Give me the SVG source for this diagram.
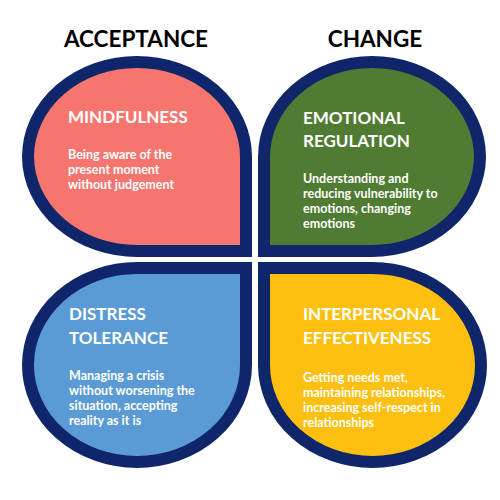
<svg xmlns="http://www.w3.org/2000/svg" width="500" height="500" viewBox="0 0 500 500">
<style>
.petal{stroke:#10266a;stroke-width:12;stroke-linejoin:miter}
.head{font-family:Lato,"Liberation Sans",sans-serif;font-weight:bold;font-size:22.5px;fill:#000}
.title{font-family:Lato,"Liberation Sans",sans-serif;font-weight:bold;font-size:17px;fill:#fff}
.body{font-family:Lato,"Liberation Sans",sans-serif;font-weight:bold;font-size:12.5px;fill:#fff}
</style>
<rect width="500" height="500" fill="#fff"/>
<g id="headers">
<text class="head" x="136" y="47" text-anchor="middle">ACCEPTANCE</text>
<text class="head" x="375" y="47" text-anchor="middle">CHANGE</text>
</g>
<g id="mindfulness">
<path class="petal" fill="#f6766f" d="M246,251 L246,157 A109,95 0 0 0 137,62 A109,95 0 0 0 28,157 A109,95 0 0 0 137,251 Z"/>
<text class="title" x="68" y="123">MINDFULNESS</text>
<text class="body" x="68" y="159">Being aware of the</text>
<text class="body" x="68" y="174">present moment</text>
<text class="body" x="68" y="189">without judgement</text>
</g>
<g id="emotional-regulation">
<path class="petal" fill="#4f7b33" d="M264,251 L264,157 A108,95 0 0 1 372,62 A108,95 0 0 1 480,157 A108,95 0 0 1 372,251 Z"/>
<text class="title" x="303" y="124">EMOTIONAL</text>
<text class="title" x="303" y="147">REGULATION</text>
<text class="body" x="303" y="183">Understanding and</text>
<text class="body" x="303" y="198">reducing vulnerability to</text>
<text class="body" x="303" y="213">emotions, changing</text>
<text class="body" x="303" y="228">emotions</text>
</g>
<g id="distress-tolerance">
<path class="petal" fill="#5b9bd5" d="M246,268 L246,365 A109,97 0 0 1 137,462 A109,97 0 0 1 28,365 A109,97 0 0 1 137,268 Z"/>
<text class="title" x="69" y="320">DISTRESS</text>
<text class="title" x="69" y="344">TOLERANCE</text>
<text class="body" x="69" y="380">Managing a crisis</text>
<text class="body" x="69" y="395">without worsening the</text>
<text class="body" x="69" y="410">situation, accepting</text>
<text class="body" x="69" y="425">reality as it is</text>
</g>
<g id="interpersonal-effectiveness">
<path class="petal" fill="#fdc010" d="M264,268 L264,365 A108.5,97 0 0 0 372.5,462 A108.5,97 0 0 0 481,365 A108.5,97 0 0 0 372.5,268 Z"/>
<text class="title" x="303" y="320">INTERPERSONAL</text>
<text class="title" x="303" y="344">EFFECTIVENESS</text>
<text class="body" x="303" y="382">Getting needs met,</text>
<text class="body" x="303" y="397">maintaining relationships,</text>
<text class="body" x="303" y="412">increasing self-respect in</text>
<text class="body" x="303" y="427">relationships</text>
</g>
</svg>
